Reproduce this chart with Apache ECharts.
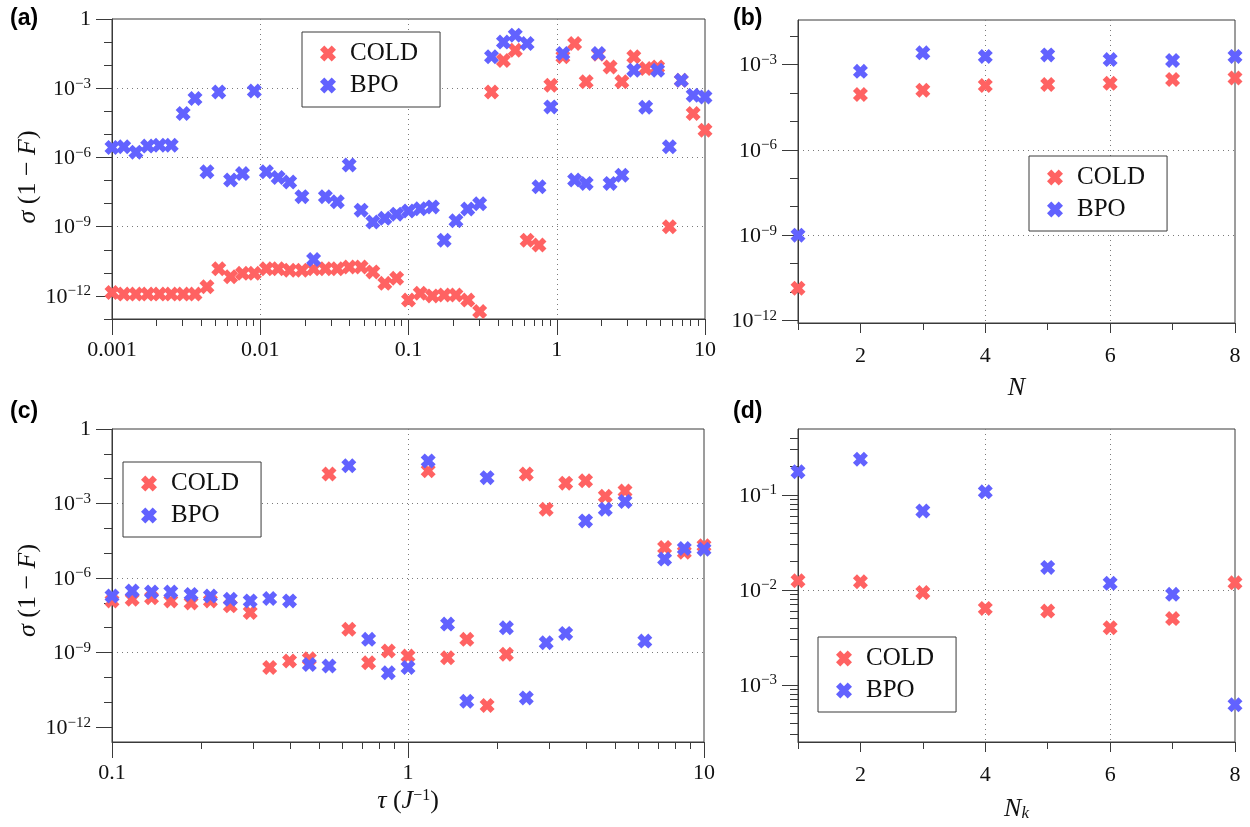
<!DOCTYPE html>
<html>
<head>
<meta charset="utf-8">
<script src="https://cdn.jsdelivr.net/npm/echarts@6/dist/echarts.min.js"></script>
<style>
  html, body { margin: 0; padding: 0; background: #fff; }
  #main { width: 1250px; height: 827px; }
</style>
</head>
<body>
<div id="main"></div>
<script>
// (a) sigma(1-F) vs tau, wide range
var tauA = [0.001, 0.0012, 0.00145, 0.00174, 0.00209, 0.00251, 0.00302, 0.00363, 0.00437, 0.00525,
  0.00631, 0.00759, 0.00912, 0.011, 0.0132, 0.0158, 0.0191, 0.0229, 0.0275, 0.0331,
  0.0398, 0.0479, 0.0575, 0.0692, 0.0832, 0.1, 0.12, 0.145, 0.174, 0.209,
  0.251, 0.302, 0.363, 0.437, 0.525, 0.631, 0.759, 0.912, 1.1, 1.32,
  1.58, 1.91, 2.29, 2.75, 3.31, 3.98, 4.79, 5.75, 6.92, 8.32, 10];
var coldA = [1.4e-12, 1.2e-12, 1.2e-12, 1.2e-12, 1.2e-12, 1.2e-12, 1.2e-12, 1.2e-12, 2.5e-12, 1.5e-11,
  6.8e-12, 9.5e-12, 9.5e-12, 1.5e-11, 1.5e-11, 1.3e-11, 1.3e-11, 1.5e-11, 1.5e-11, 1.5e-11,
  1.8e-11, 1.8e-11, 1.1e-11, 3.5e-12, 5.8e-12, 6.6e-13, 1.3e-12, 1.0e-12, 1.1e-12, 1.1e-12,
  6.6e-13, 2.1e-13, 6.9e-4, 0.016, 0.044, 2.6e-10, 1.6e-10, 1.35e-3, 0.023, 0.087,
  1.9e-3, 0.03, 8.3e-3, 1.9e-3, 0.023, 7.1e-3, 8.3e-3, 1e-9, 2.2e-3, 8e-5, 1.5e-5];
var bpoA = [2.7e-6, 2.9e-6, 1.7e-6, 3.1e-6, 3.4e-6, 3.4e-6, 8e-5, 3.6e-4, 2.4e-7, 6.9e-4,
  1.05e-7, 2e-7, 7.6e-4, 2.4e-7, 1.35e-7, 8.7e-8, 2e-8, 3.8e-11, 2e-8, 1.2e-8,
  4.7e-7, 5.2e-9, 1.6e-9, 2.3e-9, 3.5e-9, 4.8e-9, 6e-9, 7.2e-9, 2.6e-10, 1.8e-9,
  5.8e-9, 9.8e-9, 0.023, 0.10, 0.20, 0.087, 5.4e-8, 1.55e-4, 0.032, 1.05e-7,
  7.5e-8, 0.032, 7.5e-8, 1.7e-7, 6e-3, 1.5e-4, 6e-3, 2.9e-6, 2.2e-3, 5e-4, 4.2e-4];

// (b) vs N
var nB = [1, 2, 3, 4, 5, 6, 7, 8];
var coldB = [1.35e-11, 8.9e-5, 1.26e-4, 1.85e-4, 2e-4, 2.2e-4, 3e-4, 3.4e-4];
var bpoB = [1e-9, 5.8e-4, 2.6e-3, 1.95e-3, 2.2e-3, 1.5e-3, 1.4e-3, 1.95e-3];

// (c) vs tau (J^-1)
var tauC = [0.1, 0.117, 0.136, 0.158, 0.185, 0.215, 0.251, 0.293, 0.341, 0.398,
  0.464, 0.541, 0.631, 0.736, 0.858, 1.0, 1.17, 1.36, 1.58, 1.85,
  2.15, 2.51, 2.93, 3.41, 3.98, 4.64, 5.41, 6.31, 7.36, 8.58, 10];
var coldC = [1.2e-7, 1.4e-7, 1.6e-7, 1.2e-7, 1.0e-7, 1.2e-7, 7.6e-8, 4.1e-8, 2.5e-10, 4.6e-10,
  5.6e-10, 0.0155, 8.7e-9, 3.9e-10, 1.15e-9, 7.2e-10, 0.021, 6.2e-10, 3.4e-9, 7.4e-12,
  8.5e-10, 0.0155, 5.9e-4, 6.6e-3, 8.3e-3, 1.95e-3, 3.2e-3, null, 1.7e-5, 1.1e-5, 2e-5];
var bpoC = [1.9e-7, 3.0e-7, 2.75e-7, 2.75e-7, 2.2e-7, 1.9e-7, 1.4e-7, 1.2e-7, 1.5e-7, 1.2e-7,
  3.3e-10, 2.9e-10, 0.033, 3.4e-9, 1.55e-10, 2.5e-10, 0.052, 1.4e-8, 1.1e-11, 0.011,
  1.0e-8, 1.5e-11, 2.5e-9, 5.9e-9, 2e-4, 5.9e-4, 1.2e-3, 2.9e-9, 5.8e-6, 1.55e-5, 1.45e-5];

// (d) vs N_k
var nkD = [1, 2, 3, 4, 5, 6, 7, 8];
var coldD = [0.0125, 0.0122, 0.0094, 0.0064, 0.0060, 0.0040, 0.0050, 0.0119];
var bpoD = [0.176, 0.238, 0.068, 0.108, 0.0173, 0.0118, 0.0090, 0.00062];

// tick labels
var xExpA = [-3, -2, -1, 0, 1];
var xLabA = ['0.001', '0.01', '0.1', '1', '10'];
var xExpC = [-1, 0, 1];
var xLabC = ['0.1', '1', '10'];
var yExpA = [-12, -9, -6, -3, 0];
var yExpB = [-12, -9, -6, -3];
var yExpC = [-12, -9, -6, -3, 0];
var yExpD = [-3, -2, -1];
var nTicks = [2, 4, 6, 8];
var nMinor = [1, 3, 5, 7];

var SERIF = 'Liberation Serif';
var INK = '#3a3a3a';
var RED = '#ff6262';
var BLUE = '#6262ff';
var XMARK = 'path://M0,27 L27,0 L50,23 L73,0 L100,27 L77,50 L100,73 L73,100 L50,77 L27,100 L0,73 L23,50 Z';
var GRIDLINE = { color: '#7a7a7a', width: 1, type: [1, 4] };

function toPoints(xs, ys, logX) {
  var out = [];
  for (var i = 0; i < xs.length; i++) {
    if (ys[i] == null) continue;
    out.push([logX ? Math.log10(xs[i]) : xs[i], Math.log10(ys[i])]);
  }
  return out;
}

// every decade between lo and hi
function decades(lo, hi) {
  var v = [];
  for (var e = Math.ceil(lo); e <= Math.floor(hi); e++) v.push(e);
  return v;
}

// 2..9 sub-decade ticks
function subDecades(lo, hi) {
  var v = [];
  for (var d = Math.floor(lo); d < hi; d++) {
    for (var m = 2; m <= 9; m++) {
      var t = d + Math.log10(m);
      if (t > lo && t < hi) v.push(t);
    }
  }
  return v;
}

function powLabel(v) {
  var e = Math.round(v);
  if (e === 0) return '1';
  return '{b|10}{s|' + (e < 0 ? '\u2212' : '') + Math.abs(e) + '}';
}

var richPow = {
  b: { fontFamily: SERIF, fontSize: 22, color: '#111', lineHeight: 24, verticalAlign: 'bottom' },
  s: { fontFamily: SERIF, fontSize: 15, color: '#111', lineHeight: 10, verticalAlign: 'top' }
};

function xMajor(grid, min, max, ticks, fmt, len, margin) {
  return {
    type: 'value', gridIndex: grid, position: 'bottom', min: min, max: max,
    axisLine: { show: true, onZero: false, lineStyle: { color: INK, width: 1 } },
    axisTick: { show: true, customValues: ticks, length: len, lineStyle: { color: INK } },
    axisLabel: { customValues: ticks, formatter: fmt, margin: margin, fontFamily: SERIF, fontSize: 22, color: '#111' },
    splitLine: { show: true, showMinLine: false, showMaxLine: false, lineStyle: GRIDLINE }
  };
}

function yMajor(grid, min, max, ticks) {
  return {
    type: 'value', gridIndex: grid, position: 'left', min: min, max: max,
    axisLine: { show: true, onZero: false, lineStyle: { color: INK, width: 1 } },
    axisTick: { show: true, customValues: ticks, length: 16, lineStyle: { color: INK } },
    axisLabel: { customValues: ticks, formatter: powLabel, margin: 21, fontFamily: SERIF, fontSize: 22, color: '#111', rich: richPow },
    splitLine: { show: true, showMinLine: false, showMaxLine: false, lineStyle: GRIDLINE }
  };
}

function minorAxis(grid, pos, min, max, ticks, len) {
  return {
    type: 'value', gridIndex: grid, position: pos, min: min, max: max,
    axisLine: { show: false, onZero: false },
    axisTick: { show: true, customValues: ticks, length: len, lineStyle: { color: INK } },
    axisLabel: { show: false },
    splitLine: { show: false }
  };
}

function legendAt(left, top) {
  return {
    left: left, top: top, orient: 'vertical', data: ['COLD', 'BPO'],
    icon: XMARK, itemWidth: 16, itemHeight: 16, itemGap: 7,
    padding: [9, 22, 9, 18], borderColor: INK, borderWidth: 1, borderRadius: 0,
    backgroundColor: '#fff', selectedMode: false,
    itemStyle: { borderWidth: 0, opacity: 1 },
    textStyle: { fontFamily: SERIF, fontSize: 25, color: '#111', padding: [0, 0, 0, 9] }
  };
}

function pair(xi, yi, xs, cold, bpo, logX) {
  var base = { type: 'scatter', xAxisIndex: xi, yAxisIndex: yi, symbol: XMARK, symbolSize: 15, clip: false, animation: false };
  return [
    Object.assign({ name: 'COLD', itemStyle: { color: RED, opacity: 1 }, data: toPoints(xs, cold, logX) }, base),
    Object.assign({ name: 'BPO', itemStyle: { color: BLUE, opacity: 1 }, data: toPoints(xs, bpo, logX) }, base)
  ];
}

var nameStyle = {
  fontFamily: SERIF, fontSize: 26, color: '#111',
  rich: {
    i: { fontFamily: SERIF, fontSize: 26, fontStyle: 'italic', color: '#111' },
    s: { fontFamily: SERIF, fontSize: 16, color: '#111', lineHeight: 12, verticalAlign: 'top' },
    k: { fontFamily: SERIF, fontSize: 17, fontStyle: 'italic', color: '#111', lineHeight: 8, verticalAlign: 'bottom' }
  }
};
var SIGMA = '{i|\u03c3} (1 \u2212 {i|F})';

var xa = xMajor(0, -3, 1, xExpA, function(v) { return xLabA[xExpA.indexOf(Math.round(v))]; }, 16, 20);
var xb = xMajor(1, 1, 8, nTicks, function(v) { return String(v); }, 10, 22);
xb.name = '{i|N}'; xb.nameLocation = 'middle'; xb.nameGap = 52; xb.nameTextStyle = nameStyle;
var xc = xMajor(2, -1, 1, xExpC, function(v) { return xLabC[xExpC.indexOf(Math.round(v))]; }, 16, 20);
xc.name = '{i|\u03c4} ({i|J}{s|\u22121})'; xc.nameLocation = 'middle'; xc.nameGap = 46; xc.nameTextStyle = nameStyle;
var xd = xMajor(3, 1, 8, nTicks, function(v) { return String(v); }, 10, 22);
xd.name = '{i|N}{k|k}'; xd.nameLocation = 'middle'; xd.nameGap = 54; xd.nameTextStyle = nameStyle;

var ya = yMajor(0, -13, 0, yExpA);
ya.name = SIGMA; ya.nameLocation = 'middle'; ya.nameGap = 64;
ya.nameTextStyle = Object.assign({ padding: [0, 16, 0, 0] }, nameStyle);
var yb = yMajor(1, -12.09, -1.43, yExpB);
var yc = yMajor(2, -12.6, 0, yExpC);
yc.name = SIGMA; yc.nameLocation = 'middle'; yc.nameGap = 64;
yc.nameTextStyle = Object.assign({ padding: [0, 10, 0, 0] }, nameStyle);
var yd = yMajor(3, -3.6, -0.305, yExpD);

var option = {
  animation: false,
  backgroundColor: '#fff',
  textStyle: { fontFamily: SERIF },
  grid: [
    { left: 112, top: 19, width: 593, height: 300, show: true, borderColor: INK, borderWidth: 1, backgroundColor: 'transparent', outerBoundsMode: 'none' },
    { left: 798, top: 20, width: 437, height: 303, show: true, borderColor: INK, borderWidth: 1, backgroundColor: 'transparent', outerBoundsMode: 'none' },
    { left: 112, top: 429, width: 592, height: 313, show: true, borderColor: INK, borderWidth: 1, backgroundColor: 'transparent', outerBoundsMode: 'none' },
    { left: 798, top: 429, width: 437, height: 313, show: true, borderColor: INK, borderWidth: 1, backgroundColor: 'transparent', outerBoundsMode: 'none' }
  ],
  xAxis: [
    xa, minorAxis(0, 'bottom', -3, 1, subDecades(-3, 1), 7),
    xb, minorAxis(1, 'bottom', 1, 8, nMinor, 7),
    xc, minorAxis(2, 'bottom', -1, 1, subDecades(-1, 1), 7),
    xd, minorAxis(3, 'bottom', 1, 8, nMinor, 7)
  ],
  yAxis: [
    ya, minorAxis(0, 'left', -13, 0, decades(-13, 0), 8),
    yb, minorAxis(1, 'left', -12.09, -1.43, decades(-12.09, -1.43), 8),
    yc, minorAxis(2, 'left', -12.6, 0, decades(-12.6, 0), 8),
    yd, minorAxis(3, 'left', -3.6, -0.305, subDecades(-3.6, -0.305), 8)
  ],
  legend: [
    legendAt(302, 32),
    legendAt(1029, 156),
    legendAt(123, 462),
    legendAt(818, 637)
  ],
  graphic: [
    { type: 'text', left: 10, top: 7, style: { text: '(a)', font: 'bold 23px "Liberation Sans"', fill: '#000' } },
    { type: 'text', left: 733, top: 7, style: { text: '(b)', font: 'bold 23px "Liberation Sans"', fill: '#000' } },
    { type: 'text', left: 10, top: 400, style: { text: '(c)', font: 'bold 23px "Liberation Sans"', fill: '#000' } },
    { type: 'text', left: 733, top: 400, style: { text: '(d)', font: 'bold 23px "Liberation Sans"', fill: '#000' } }
  ],
  series: [].concat(
    pair(0, 0, tauA, coldA, bpoA, true),
    pair(2, 2, nB, coldB, bpoB, false),
    pair(4, 4, tauC, coldC, bpoC, true),
    pair(6, 6, nkD, coldD, bpoD, false)
  )
};

var chart = echarts.init(document.getElementById('main'), null, { renderer: 'canvas' });
chart.setOption(option);
</script>
</body>
</html>
